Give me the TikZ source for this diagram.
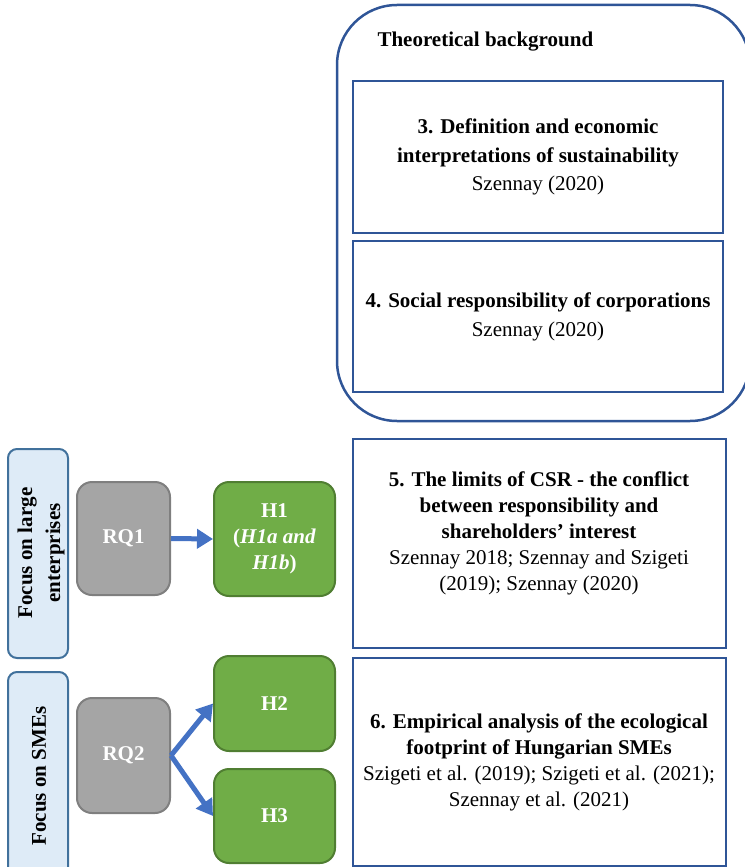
\documentclass[tikz,border=0pt]{standalone}
\usepackage{fontspec}
\setmainfont{Liberation Serif}
\usetikzlibrary{arrows.meta}
\definecolor{dblue}{HTML}{2F5597}
\definecolor{lblue}{HTML}{DEEBF7}
\definecolor{sblue}{HTML}{41719C}
\definecolor{gfill}{HTML}{A5A5A5}
\definecolor{gline}{HTML}{7F7F7F}
\definecolor{hfill}{HTML}{70AD47}
\definecolor{hline}{HTML}{507E32}
\definecolor{arr}{HTML}{4472C4}
\tikzset{
  txt/.style={font=\fontsize{21}{26}\selectfont, align=center},
  thbox/.style={draw=dblue, line width=2.5pt, txt},
  focus/.style={draw=sblue, fill=lblue, line width=2pt, rounded corners=9pt},
  rq/.style={draw=gline, fill=gfill, line width=2pt, rounded corners=15pt, txt, text=white, font=\fontsize{21}{26}\selectfont\bfseries},
  hyp/.style={draw=hline, fill=hfill, line width=2pt, rounded corners=15pt, txt, text=white, font=\fontsize{21}{26}\selectfont\bfseries},
  conn/.style={draw=arr, line width=5pt, -{Triangle[length=16pt,width=19pt]}}
}
\begin{document}
\begin{tikzpicture}[x=1pt,y=-1pt]
\useasboundingbox (0,0) rectangle (744,867);
% outer theoretical background
\draw[dblue, line width=2.5pt, rounded corners=60pt] (337,5) rectangle (750,421);
\node[font=\fontsize{21}{26}\selectfont\bfseries, anchor=west] (tb) at (374,42) {Theoretical background};
% box 3
\draw[thbox] (353,81) rectangle (723,233);
\node[txt] (b3) at (538,157) {\textbf{3. Definition and economic}\\[2.5pt]\textbf{interpretations of sustainability}\\[2.5pt]Szennay (2020)};
% box 4
\draw[thbox] (353,241) rectangle (723,392);
\node[txt] (b4) at (538,317) {\textbf{4. Social responsibility of corporations}\\[3pt]Szennay (2020)};
% box 5
\draw[thbox] (353,439) rectangle (726,648);
\node[txt] (b5) at (539,533) {\textbf{5. The limits of CSR - the conflict}\\\textbf{between responsibility and}\\\textbf{shareholders’ interest}\\Szennay 2018; Szennay and Szigeti\\(2019); Szennay (2020)};
% box 6
\draw[thbox] (353,658) rectangle (726,866);
\node[txt] (b6) at (539,762) {\textbf{6. Empirical analysis of the ecological}\\\textbf{footprint of Hungarian SMEs}\\Szigeti et al. (2019); Szigeti et al. (2021);\\Szennay et al. (2021)};
% focus boxes
\draw[focus] (8,449) rectangle (68,658);
\node[txt, rotate=90, font=\fontsize{21}{28}\selectfont\bfseries] (f1) at (41,553) {Focus on large\\enterprises};
\draw[focus] (8,672) rectangle (68,885);
\node[txt, rotate=90, font=\fontsize{21}{26}\selectfont\bfseries] (f2) at (39,776) {Focus on SMEs};
% RQ boxes
\node[rq, minimum width=93pt, minimum height=113pt] (rq1) at (123.5,538.5) {RQ1};
\node[rq, minimum width=93pt, minimum height=115pt] (rq2) at (123.5,755.5) {RQ2};
% H boxes
\node[hyp, minimum width=121pt, minimum height=114pt] (h1) at (274.5,539) {H1\\(\textit{H1a and}\\\textit{H1b})};
\node[hyp, minimum width=121pt, minimum height=95pt] (h2) at (274.5,703.5) {H2};
\node[hyp, minimum width=121pt, minimum height=94pt] (h3) at (274.5,816) {H3};
% arrows
\draw[conn] (rq1.east) -- (h1.west);
\draw[conn] (rq2.east) -- (h2.west);
\draw[conn] (rq2.east) -- (h3.west);
\end{tikzpicture}
\end{document}
